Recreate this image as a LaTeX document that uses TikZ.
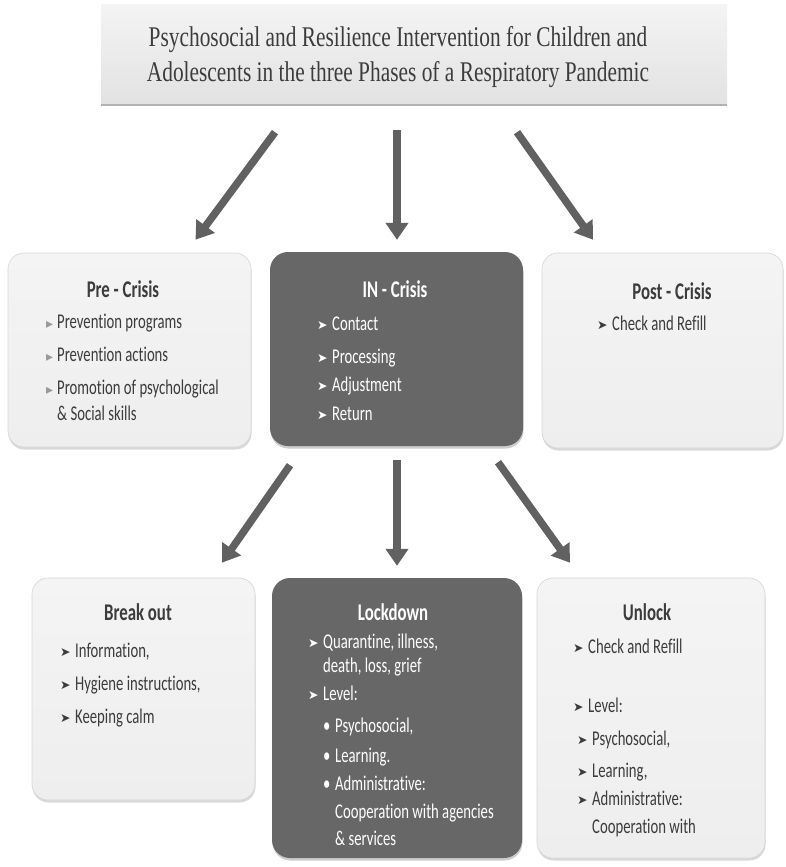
\documentclass[tikz,border=0pt]{standalone}
\usepackage{fontspec}
\setmainfont{Carlito}[FakeStretch=0.70, RawFeature={-liga}]
\newfontfamily\headfont{Liberation Serif}[FakeStretch=0.75]
\newfontfamily\symfont{DejaVu Sans}
\usetikzlibrary{positioning, arrows.meta, calc, shadows}

\definecolor{paper}{HTML}{EEEEEE}
\definecolor{paperhi}{HTML}{F4F4F4}
\definecolor{edgegray}{HTML}{D6D6D6}
\definecolor{slate}{HTML}{676767}
\definecolor{arrowgray}{HTML}{616161}
\definecolor{inkgray}{HTML}{3C3C3C}
\definecolor{bulgray}{HTML}{999999}

% bullets
\newcommand{\tri}{\makebox[11pt][l]{\textcolor{bulgray}{\symfont\fontsize{14}{14}\selectfont ▸}}}
\newcommand{\arrb}{\makebox[15pt][l]{\raisebox{0.5pt}{\symfont\fontsize{12.5}{12}\selectfont ➤}}}
\newcommand{\dotb}{\makebox[12pt][l]{\textbullet}}

\tikzset{
  lightbox/.style={rectangle, rounded corners=16pt, draw=edgegray, line width=0.6pt,
    top color=paperhi, bottom color=paper,
    drop shadow={shadow xshift=0.5pt, shadow yshift=-2.5pt, fill=black, opacity=0.15}},
  darkbox/.style={rectangle, rounded corners=18pt, fill=slate,
    drop shadow={shadow xshift=0.5pt, shadow yshift=-2.5pt, fill=black, opacity=0.2}},
  bigarrow/.style={draw=arrowgray, line width=7.5pt, -{Triangle[width=22pt,length=17pt]}},
  head/.style={font=\fontsize{24}{24}\selectfont\bfseries, text=inkgray, inner sep=0pt, anchor=base},
  itemtxt/.style={font=\fontsize{21}{24}\selectfont, text=inkgray, inner sep=0pt, anchor=base west},
}

\begin{document}
\begin{tikzpicture}[x=1pt, y=-1pt]
  \fill[white] (0,0) rectangle (785,867);
  \useasboundingbox (0,0) rectangle (785,867);

  % title
  \node[rectangle, top color=paperhi, bottom color=paper!95!black, minimum width=626pt, minimum height=98pt,
        drop shadow={shadow xshift=0pt, shadow yshift=-3pt, fill=black, opacity=0.3}] (title) at (414,54) {};
  \node[font=\headfont\fontsize{28.5}{35}\selectfont, text=inkgray, align=center, inner sep=0pt] (heading) at (398,57)
    {Psychosocial and Resilience Intervention for Children and\\
     Adolescents in the three Phases of a Respiratory Pandemic};

  % phases
  \node[lightbox, minimum width=243pt, minimum height=194pt] (pre) at (129.5,350) {};
  \node[darkbox, minimum width=253pt, minimum height=194pt] (in) at (396.5,349) {};
  \node[lightbox, minimum width=241pt, minimum height=195pt] (post) at (662.5,350.5) {};

  % stages of the crisis
  \node[lightbox, minimum width=223pt, minimum height=222pt] (brk) at (143.5,689) {};
  \node[darkbox, minimum width=250pt, minimum height=280pt] (lock) at (397,718) {};
  \node[lightbox, minimum width=228pt, minimum height=280pt] (unl) at (651,718) {};

  \draw[bigarrow] ($(title.south)+(-139,29)$) -- ($(pre.north)+(66,-13)$);
  \draw[bigarrow] ($(title.south)+(-17,27)$) -- ($(in.north)+(0.5,-12)$);
  \draw[bigarrow] ($(title.south)+(103,29)$) -- ($(post.north)+(-69.5,-13)$);
  \draw[bigarrow] ($(in.south)+(-106.5,19)$) -- ($(brk.north)+(78.5,-15)$);
  \draw[bigarrow] ($(in.south)+(0.5,14)$) -- ($(lock.north)+(0,-12)$);
  \draw[bigarrow] ($(in.south)+(101.5,16)$) -- ($(unl.north)+(-81,-15)$);

  % Pre - Crisis
  \node[head] (pre-h) at (123,297) {Pre - Crisis};
  \foreach \txt [count=\i] in {Prevention programs, Prevention actions, Promotion of psychological}
    \node[itemtxt] (pre-\i) at (46,295+33*\i) {\tri\txt};
  \node[itemtxt] (pre-4) at (57,420) {\& Social skills};

  % IN - Crisis
  \node[head, text=white] (in-h) at (395,297) {IN - Crisis};
  \foreach \txt/\y [count=\i] in {Contact/330, Processing/363, Adjustment/391, Return/420}
    \node[itemtxt, text=white] (in-\i) at (317,\y) {\arrb\txt};

  % Post - Crisis
  \node[head] (post-h) at (672,299) {Post - Crisis};
  \node[itemtxt] (post-1) at (597,330) {\arrb Check and Refill};

  % Break out
  \node[head] (brk-h) at (138,620) {Break out};
  \foreach \txt [count=\i] in {{Information,}, {Hygiene instructions,}, Keeping calm}
    \node[itemtxt] (brk-\i) at (60,624+33*\i) {\arrb\txt};

  % Lockdown
  \node[head, text=white] (lock-h) at (393,620) {Lockdown};
  \node[itemtxt, text=white] (lock-1) at (308,648) {\arrb Quarantine, illness,};
  \node[itemtxt, text=white] (lock-2) at (323,672) {death, loss, grief};
  \node[itemtxt, text=white] (lock-3) at (308,700) {\arrb Level:};
  \node[itemtxt, text=white] (lock-4) at (323,732) {\dotb Psychosocial,};
  \node[itemtxt, text=white] (lock-5) at (323,762) {\dotb Learning.};
  \node[itemtxt, text=white] (lock-6) at (323,790) {\dotb Administrative:};
  \node[itemtxt, text=white] (lock-7) at (335,818) {Cooperation with agencies};
  \node[itemtxt, text=white] (lock-8) at (335,845) {\& services};

  % Unlock
  \node[head] (unl-h) at (647,620) {Unlock};
  \node[itemtxt] (unl-1) at (573,653) {\arrb Check and Refill};
  \node[itemtxt] (unl-2) at (573,712) {\arrb Level:};
  \node[itemtxt] (unl-3) at (577,745) {\arrb Psychosocial,};
  \node[itemtxt] (unl-4) at (577,777) {\arrb Learning,};
  \node[itemtxt] (unl-5) at (577,805) {\arrb Administrative:};
  \node[itemtxt] (unl-6) at (592,833) {Cooperation with};
\end{tikzpicture}
\end{document}
